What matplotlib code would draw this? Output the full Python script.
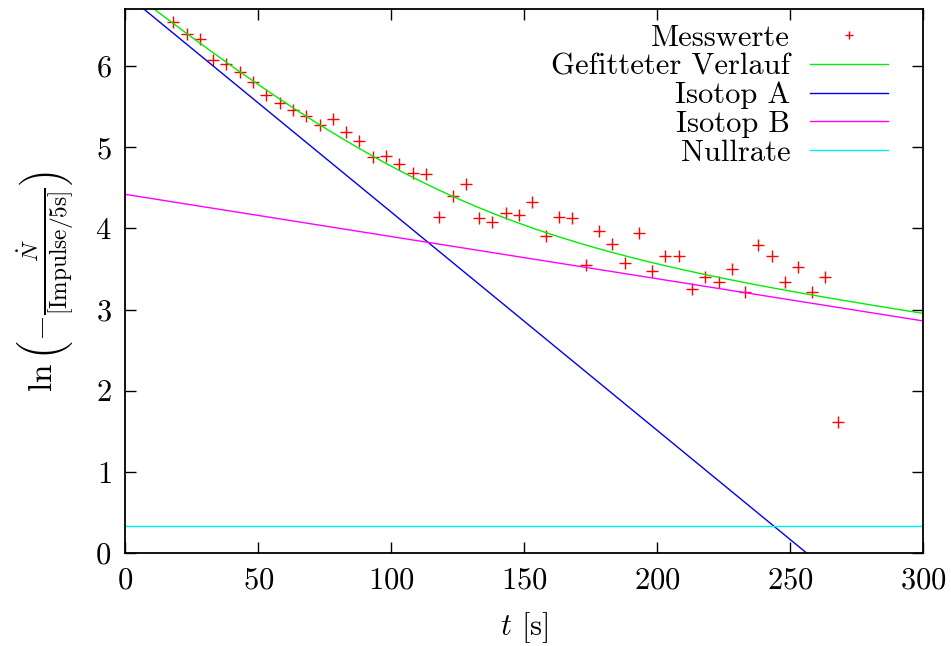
import numpy as np
import matplotlib
matplotlib.use("Agg")
import matplotlib.pyplot as plt

plt.rcParams['font.family'] = 'serif'
plt.rcParams['font.serif'] = ['cmr10', 'DejaVu Serif']
plt.rcParams['mathtext.fontset'] = 'cm'
plt.rcParams['axes.formatter.use_mathtext'] = True

# measured values
t_mess = [18, 23, 28, 33, 38, 43, 48, 53, 58, 63, 68, 73, 78, 83, 88, 93, 98,
          103, 108, 113, 118, 123, 128, 133, 138, 143, 148, 153, 158, 163, 168,
          173, 178, 183, 188, 193, 198, 203, 208, 213, 218, 223, 228, 233, 238,
          243, 248, 253, 258, 263, 268]
ln_rate = [6.54, 6.40, 6.33, 6.07, 6.03, 5.93, 5.81, 5.65, 5.54, 5.46, 5.39,
           5.28, 5.35, 5.19, 5.08, 4.88, 4.89, 4.80, 4.68, 4.67, 4.14, 4.40,
           4.55, 4.13, 4.08, 4.19, 4.16, 4.33, 3.91, 4.14, 4.13, 3.55, 3.97,
           3.81, 3.58, 3.95, 3.47, 3.66, 3.66, 3.26, 3.40, 3.34, 3.50, 3.22,
           3.79, 3.66, 3.34, 3.53, 3.22, 3.40, 1.62]

# fit parameters (ln N = a - lambda t)
a_A, lam_A = 6.89, 0.0269
a_B, lam_B = 4.42, 0.0052
c_null = 0.333

t = np.linspace(0, 300, 600)
iso_A = a_A - lam_A * t
iso_B = a_B - lam_B * t
null = np.full_like(t, c_null)
fit = np.log(np.exp(iso_A) + np.exp(iso_B) + np.exp(null))

fig = plt.figure(figsize=(9.51, 6.46), dpi=100)
ax = fig.add_axes([0.1318, 0.1438, 0.971 - 0.1318, 0.9856 - 0.1438])

ax.plot(t_mess, ln_rate, '+', color='red', ms=9, mew=1.0, label='Messwerte')
ax.plot(t, fit, '-', color='#00ee00', lw=1.0, label='Gefitteter Verlauf')
ax.plot(t, iso_A, '-', color='#0000ee', lw=1.0, label='Isotop A')
ax.plot(t, iso_B, '-', color='#ff00ff', lw=1.0, label='Isotop B')
ax.plot(t, null, '-', color='#00eeee', lw=1.0, label='Nullrate')

ax.set_xlim(0, 300)
ax.set_ylim(0, 6.7)
ax.set_xticks([0, 50, 100, 150, 200, 250, 300])
ax.set_yticks([0, 1, 2, 3, 4, 5, 6])
ax.tick_params(direction='in', length=8, width=1, top=True, right=True,
               labelsize=22, pad=10)
for s in ax.spines.values():
    s.set_linewidth(1.3)

ax.set_xlabel(r'$t$ [s]', fontsize=22, labelpad=11)
ax.set_ylabel(r'$\ln\left(-\frac{\dot{N}}{[\mathrm{Impulse}/5\mathrm{s}]}\right)$',
              fontsize=24, labelpad=14)

leg = ax.legend(loc='upper right', bbox_to_anchor=(0.9555, 0.972),
                frameon=False, fontsize=22, markerfirst=False,
                handlelength=2.55, labelspacing=0.04, borderpad=0,
                borderaxespad=0, markerscale=0.7, handletextpad=0.65)
for txt in leg.get_texts():
    txt.set_ha('right')
leg._legend_box.align = 'right'

fig.savefig('out.png', dpi=100)
